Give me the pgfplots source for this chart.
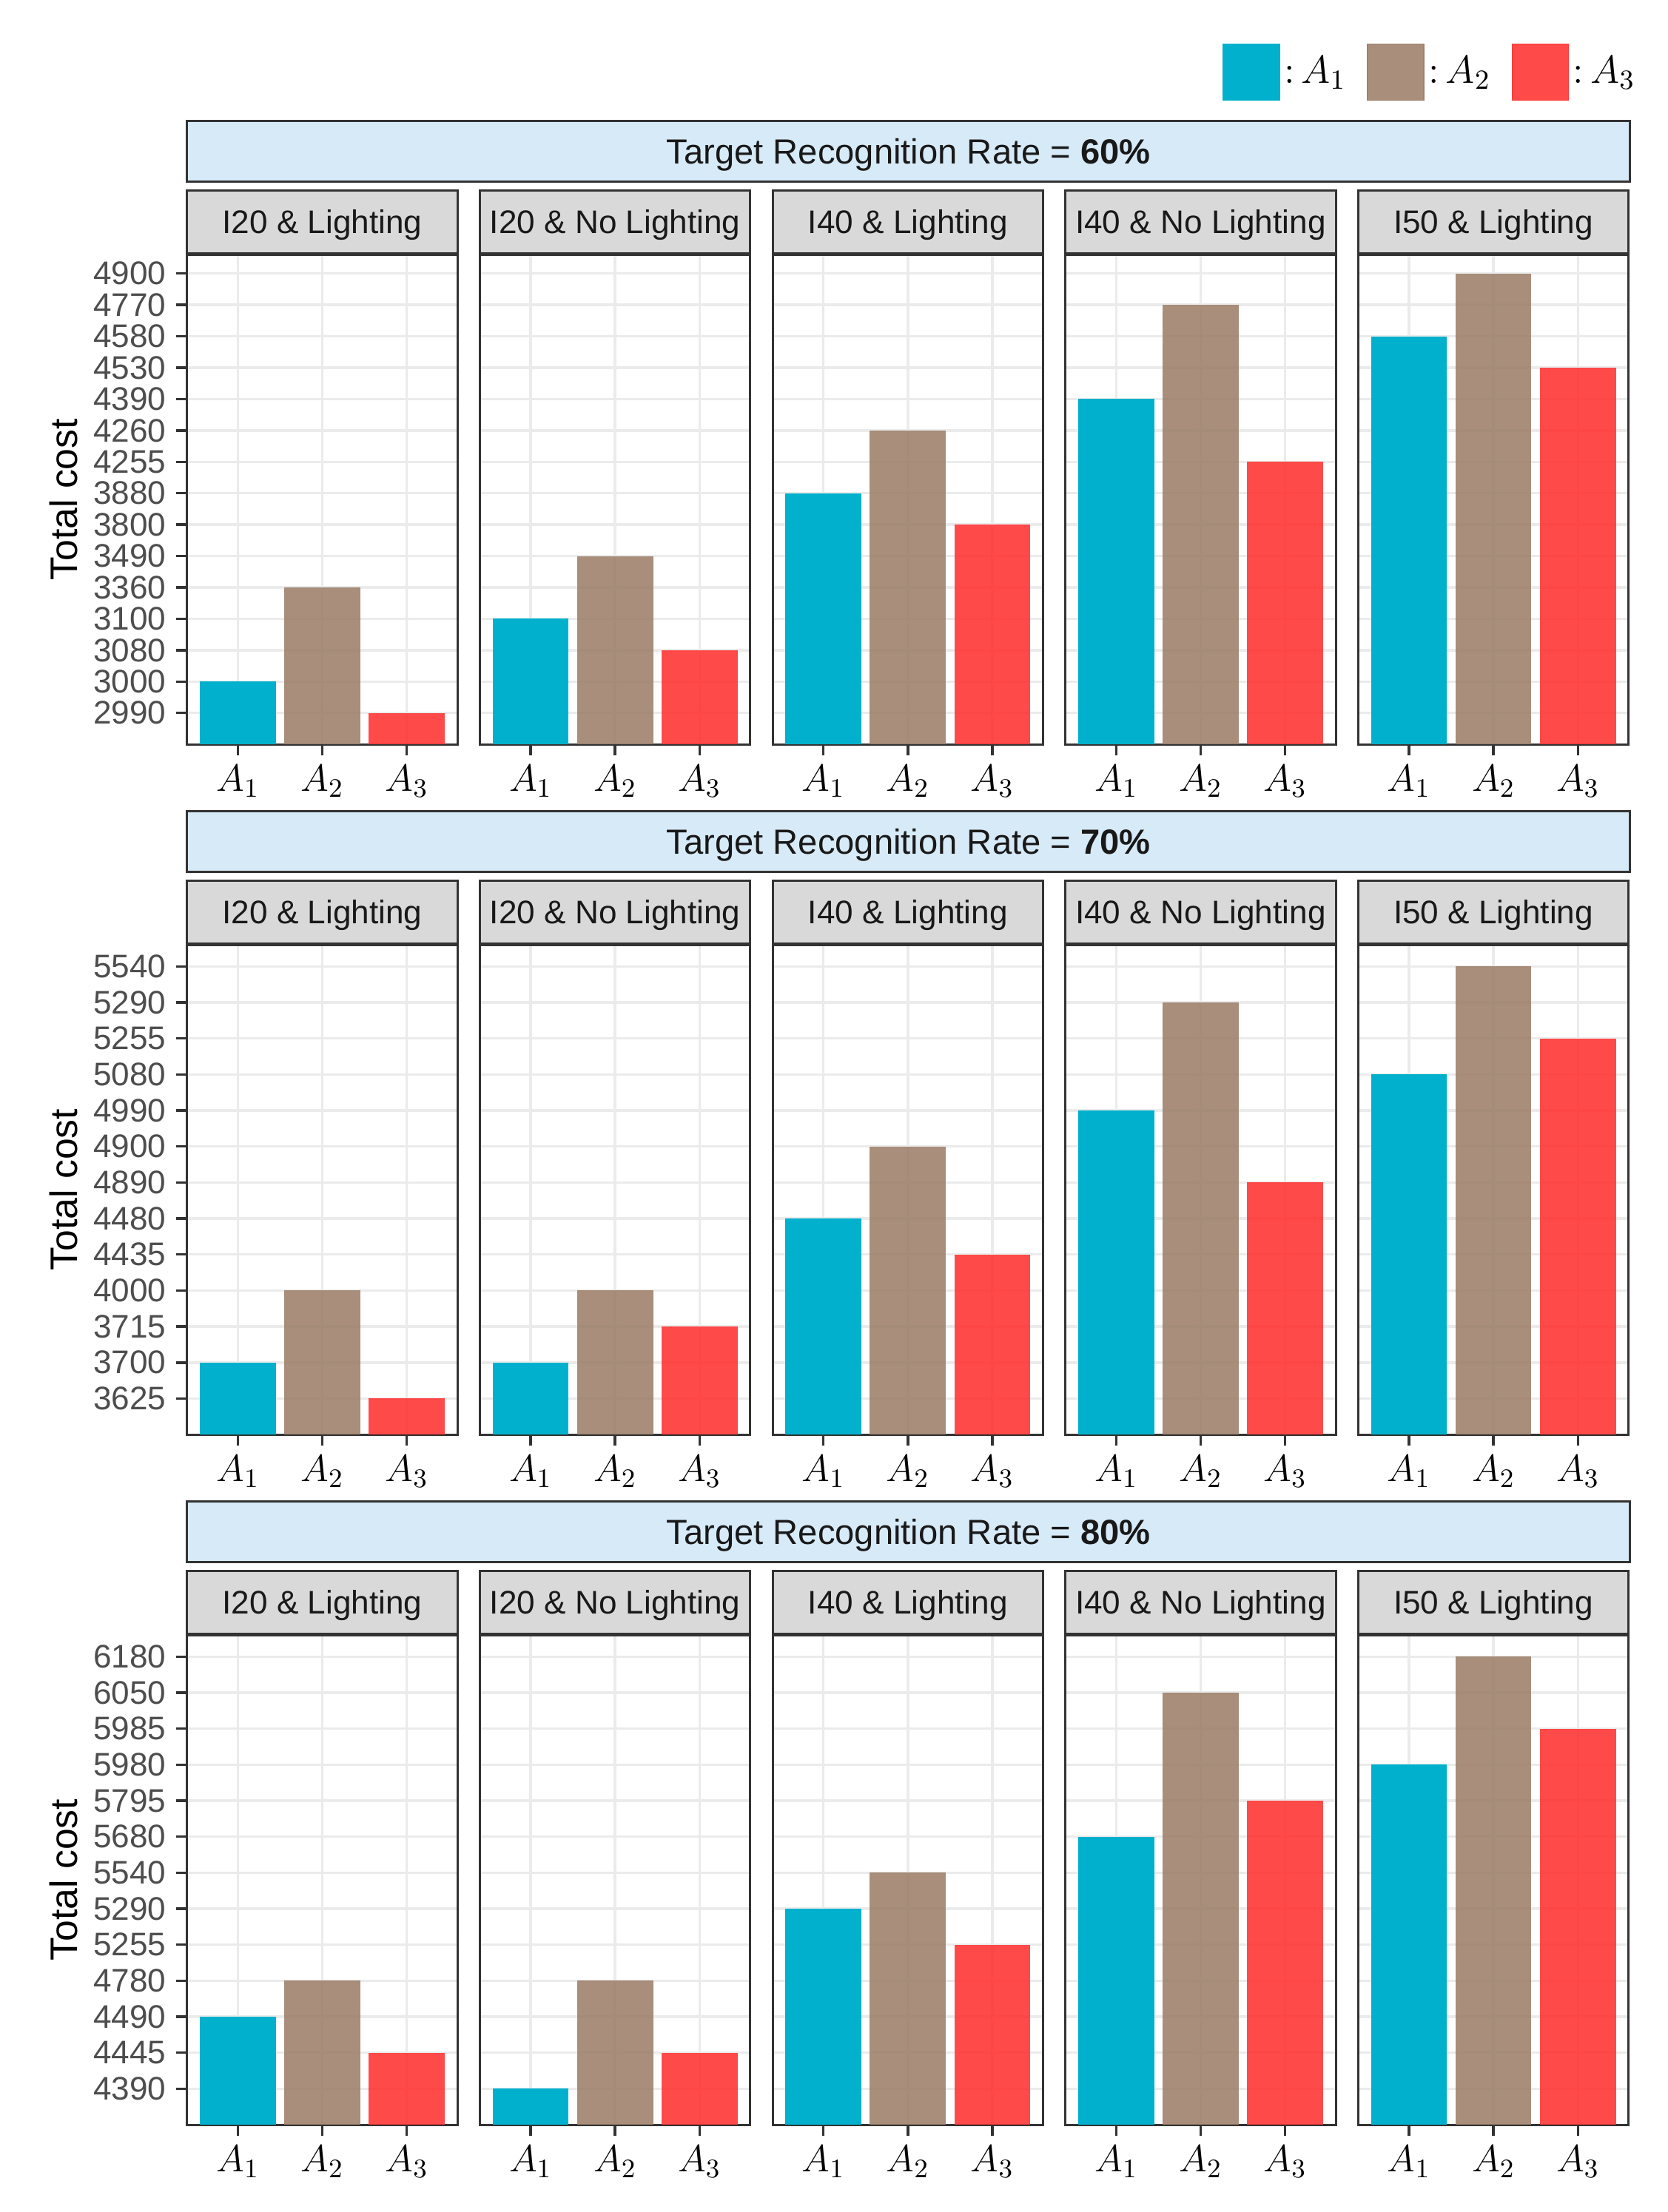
\RequirePackage{fix-cm}
\documentclass[border=0pt]{standalone}
\usepackage{fontspec}
\setmainfont{Liberation Sans}
\usepackage{pgfplots}
\pgfplotsset{compat=1.18}

\definecolor{cA1}{RGB}{0,176,204}
\definecolor{cA2}{RGB}{158,130,109}
\definecolor{cA3}{RGB}{255,54,54}
\definecolor{gridc}{RGB}{235,235,235}
\definecolor{frame}{RGB}{51,51,51}
\definecolor{stripg}{RGB}{217,217,217}
\definecolor{stripb}{RGB}{215,234,248}
\definecolor{ticktxt}{RGB}{77,77,77}

% y is an ordinal scale: bars are plotted at the rank of their cost,
% the cost itself is the tick label of that rank
\pgfplotsset{
  facet/.style={
    scale only axis, width=96pt, height=174pt, anchor=north west,
    xmin=0.4, xmax=3.6, ymin=0,
    xtick={1,2,3}, xticklabels={$A_1$,$A_2$,$A_3$},
    grid=major, major grid style={draw=gridc, line width=0.9pt},
    axis line style={draw=frame, line width=0.8pt},
    tick style={draw=frame, line width=0.9pt},
    tick align=outside, major tick length=4pt, tick pos=left,
    x tick label style={font=\fontsize{13.5}{13.5}\selectfont, text=black},
    y tick label style={font=\fontsize{11.6}{11.6}\selectfont, text=ticktxt},
    every axis title shift=0pt,
    title style={at={(0.5,1)}, anchor=south, yshift=0pt, inner sep=0pt,
      fill=stripg, draw=frame, line width=0.8pt,
      minimum width=96pt, minimum height=22.5pt,
      text height=8.3pt, text depth=0pt,
      font=\fontsize{11.6}{12}\selectfont, text=black!90},
  },
  bars/.style={ybar, bar width=0.9, bar shift=0pt, draw=none, forget plot},
  row1/.style={ymax=15.6, ytick={1,...,15},
    yticklabels={2990,3000,3080,3100,3360,3490,3800,3880,4255,4260,4390,4530,4580,4770,4900}},
  row2/.style={ymax=13.6, ytick={1,...,13},
    yticklabels={3625,3700,3715,4000,4435,4480,4890,4900,4990,5080,5255,5290,5540}},
  row3/.style={ymax=13.6, ytick={1,...,13},
    yticklabels={4390,4445,4490,4780,5255,5290,5540,5680,5795,5980,5985,6050,6180}},
  first/.style={ylabel={Total cost},
    ylabel style={at={(axis description cs:-0.458,0.5)}, anchor=center,
      font=\fontsize{13.6}{14}\selectfont, text=black}},
  inner/.style={yticklabels={}, ytick style={draw=none}},
}

% #1 x, #2 y, #3 strip title, #4 row, #5 column style, #6-#8 ranks of A1..A3
\newcommand{\facet}[8]{%
\begin{axis}[facet, #4, #5, at={(#1,#2)}, title={#3}]
  \addplot[bars, fill=cA1] coordinates {(1,#6)};
  \addplot[bars, fill=cA2, fill opacity=0.9] coordinates {(2,#7)};
  \addplot[bars, fill=cA3, fill opacity=0.9] coordinates {(3,#8)};
\end{axis}}

\begin{document}
\begin{tikzpicture}
\path[use as bounding box] (0,0) rectangle (592.3pt,-786pt);

% ---- 60%
\facet{66.5pt}{-90.5pt}{I20 \& Lighting}{row1}{first}{2}{5}{1}
\facet{170.5pt}{-90.5pt}{I20 \& No Lighting}{row1}{inner}{4}{6}{3}
\facet{274.5pt}{-90.5pt}{I40 \& Lighting}{row1}{inner}{8}{10}{7}
\facet{378.5pt}{-90.5pt}{I40 \& No Lighting}{row1}{inner}{11}{14}{9}
\begin{axis}[facet, row1, inner, at={(482.5pt,-90.5pt)}, title={I50 \& Lighting},
  legend style={at={(1,1)}, anchor=south east, xshift=4pt, yshift=54.5pt,
    draw=none, fill=none, inner sep=0pt, legend columns=3,
    font=\fontsize{14}{14}\selectfont, nodes={inner sep=1.5pt},
    /tikz/every even column/.append style={column sep=6pt}}]
  \addplot[bars, fill=cA1] coordinates {(1,13)};
  \addplot[bars, fill=cA2, fill opacity=0.9] coordinates {(2,15)};
  \addplot[bars, fill=cA3, fill opacity=0.9] coordinates {(3,12)};
  \addlegendimage{legend image code/.code={\fill[cA1] (0pt,-10pt) rectangle (20pt,10pt);}}
  \addlegendentry{${:}\,A_1$}
  \addlegendimage{legend image code/.code={\fill[cA2,fill opacity=0.9] (0pt,-10pt) rectangle (20pt,10pt);}}
  \addlegendentry{${:}\,A_2$}
  \addlegendimage{legend image code/.code={\fill[cA3,fill opacity=0.9] (0pt,-10pt) rectangle (20pt,10pt);}}
  \addlegendentry{${:}\,A_3$}
\end{axis}

% ---- 70%
\facet{66.5pt}{-335.75pt}{I20 \& Lighting}{row2}{first}{2}{4}{1}
\facet{170.5pt}{-335.75pt}{I20 \& No Lighting}{row2}{inner}{2}{4}{3}
\facet{274.5pt}{-335.75pt}{I40 \& Lighting}{row2}{inner}{6}{8}{5}
\facet{378.5pt}{-335.75pt}{I40 \& No Lighting}{row2}{inner}{9}{12}{7}
\facet{482.5pt}{-335.75pt}{I50 \& Lighting}{row2}{inner}{10}{13}{11}

% ---- 80%
\facet{66.5pt}{-581pt}{I20 \& Lighting}{row3}{first}{3}{4}{2}
\facet{170.5pt}{-581pt}{I20 \& No Lighting}{row3}{inner}{1}{4}{2}
\facet{274.5pt}{-581pt}{I40 \& Lighting}{row3}{inner}{6}{7}{5}
\facet{378.5pt}{-581pt}{I40 \& No Lighting}{row3}{inner}{8}{12}{9}
\facet{482.5pt}{-581pt}{I50 \& Lighting}{row3}{inner}{10}{13}{11}

% top strips
\tikzset{rate/.style={fill=stripb, draw=frame, line width=0.8pt, inner sep=0pt,
  minimum width=512.5pt, minimum height=21.5pt, text height=8.9pt, text depth=0pt,
  font=\fontsize{12.4}{13}\selectfont, text=black!90}}
\node[rate] at (322.75pt,-53.75pt) {Target Recognition Rate = \textbf{60\%}};
\node[rate] at (322.75pt,-299pt) {Target Recognition Rate = \textbf{70\%}};
\node[rate] at (322.75pt,-544.25pt) {Target Recognition Rate = \textbf{80\%}};
\end{tikzpicture}
\end{document}
